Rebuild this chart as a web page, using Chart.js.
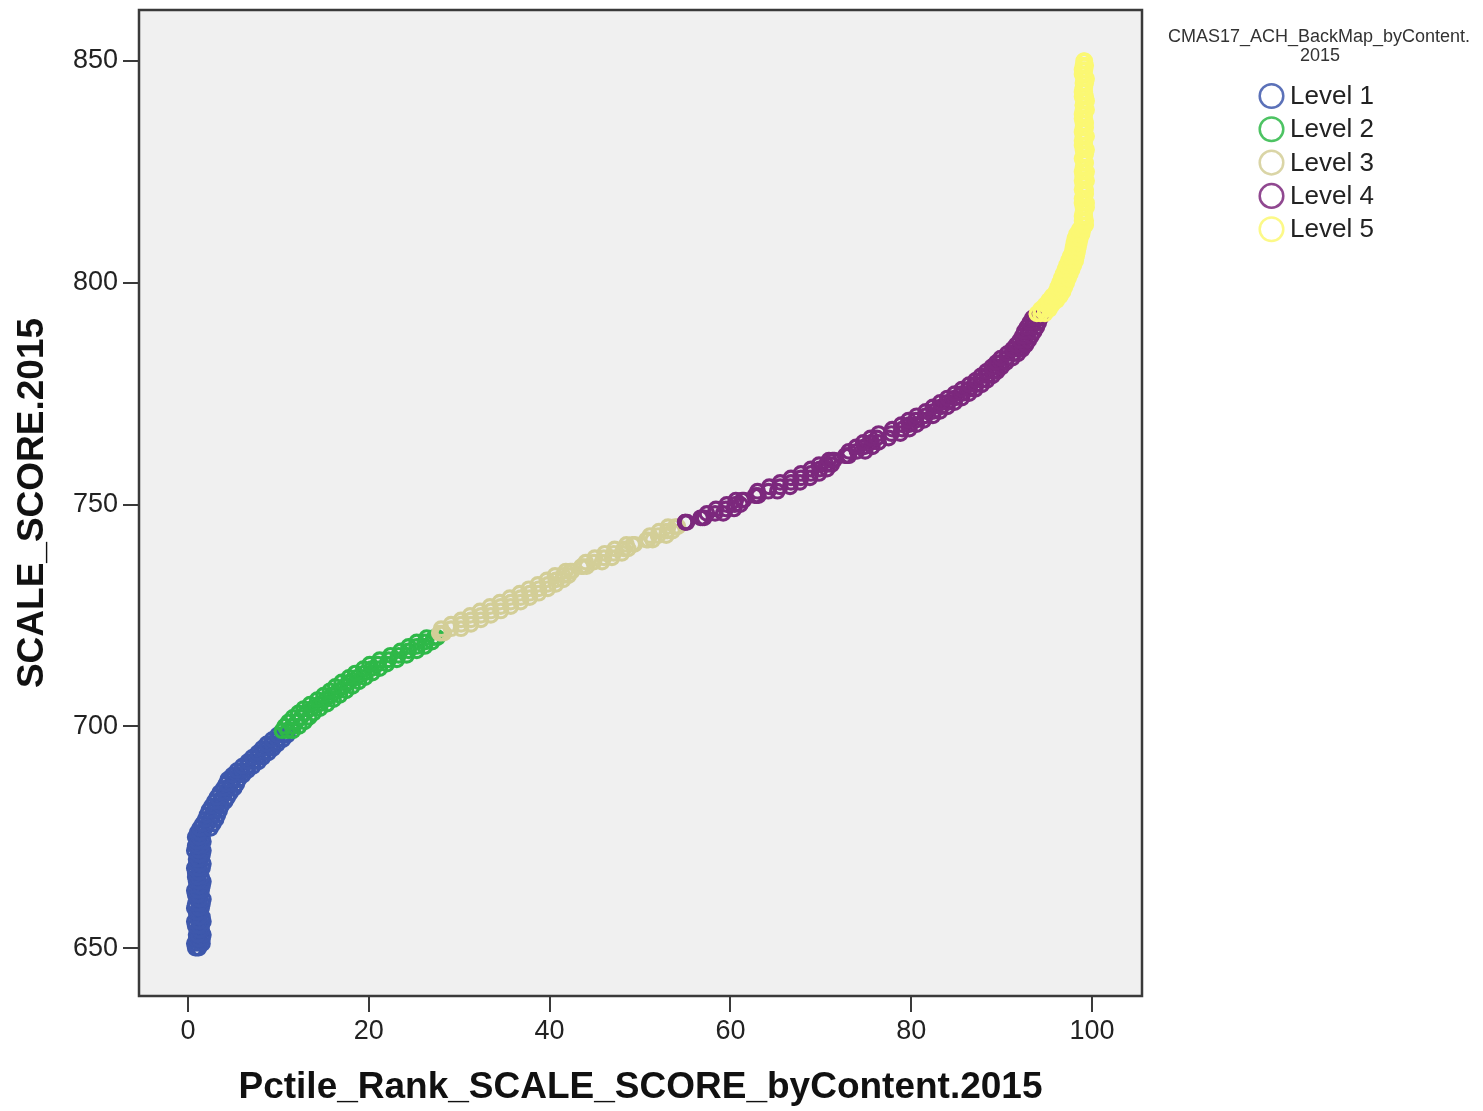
<!DOCTYPE html>
<html><head><meta charset="utf-8">
<script src="https://cdn.jsdelivr.net/npm/chart.js@4/dist/chart.umd.min.js"></script>
<style>html,body{margin:0;padding:0;background:#fff;}canvas{display:block;}</style>
</head><body>
<canvas id="c" width="1483" height="1111"></canvas>
<script>
// ---- data ----
const levelNames = ['Level 1','Level 2','Level 3','Level 4','Level 5'];
const legendTitle = ['CMAS17_ACH_BackMap_byContent.', '2015'];
const xTitle = 'Pctile_Rank_SCALE_SCORE_byContent.2015';
const yTitle = 'SCALE_SCORE.2015';
const xTickValues = [0,20,40,60,80,100];
const yTickValues = [650,700,750,800,850];

// scale scores per level, with three percentile-rank readings per score (content groups)
const level1Scores = [650,651,652,653,654,655,656,657,658,659,660,661,662,663,664,665,666,667,668,669,670,671,672,673,674,675,676,677,678,679,680,681,682,683,684,685,686,687,688,689,690,691,692,693,694,695,696,697,698];
const level1PctA = [1.2,0.7,1.6,0.9,1.5,0.8,1.7,1.0,1.4,0.7,1.6,1.1,0.8,1.5,1.0,1.7,0.8,1.3,1.6,0.9,1.4,1.1,1.7,0.8,1.3,1.6,1.0,1.9,2.2,2.5,2.7,2.9,3.1,3.5,3.8,4.1,4.5,4.8,5.0,5.5,6.0,6.6,7.2,7.7,8.3,8.8,9.3,9.9,10.5];
const level1PctB = [0.8,1.6,0.9,1.7,1.0,1.5,0.7,1.6,0.9,1.5,0.8,1.7,1.4,0.7,1.6,0.9,1.5,0.8,0.7,1.7,0.9,1.6,0.7,1.5,1.7,0.8,1.6,1.3,1.6,1.9,2.1,2.3,2.6,2.9,3.2,3.5,3.9,4.2,4.4,4.9,5.4,6.0,6.6,7.1,7.7,8.2,8.7,9.3,9.9];
const level1PctC = [1.0,1.3,1.2,1.1,1.3,1.2,1.2,1.3,1.1,1.2,1.2,1.3,1.1,1.1,1.3,1.2,1.1,1.2,1.2,1.3,1.1,1.3,1.2,1.1,1.0,1.2,1.3,2.5,2.8,3.1,3.3,3.5,3.7,4.1,4.4,4.7,5.1,5.4,5.6,6.1,6.6,7.2,7.8,8.3,8.9,9.4,9.9,10.5,11.0];

const level2Scores = [699,700,701,702,703,704,705,706,707,708,709,710,711,712,713,714,715,716,717,718,719,720];
const level2PctA = [11.0,11.5,12.0,12.5,13.0,13.7,14.5,15.2,15.9,16.6,17.3,17.9,18.7,19.5,20.3,21.0,22.2,23.3,24.4,25.3,26.2,27.2];
const level2PctB = [10.4,10.7,11.1,11.6,12.2,12.8,13.5,14.3,15.0,15.7,16.3,17.0,17.8,18.5,19.4,20.1,21.2,22.4,23.5,24.4,25.3,26.4];
const level2PctC = [11.6,12.3,12.9,13.4,13.9,14.6,15.4,16.1,16.8,17.5,18.2,18.9,19.6,20.4,21.2,22.0,23.1,24.2,25.3,26.2,27.0,27.6];

const level3Scores = [721,722,723,724,725,726,727,728,729,730,731,732,733,734,735,736,737,738,739,740,741,742,743,744,745];
const level3PctA = [28.0,29.1,30.2,31.3,32.4,33.5,34.6,35.7,36.8,37.8,38.8,39.8,40.7,41.5,42.3,43.7,44.9,46.0,47.1,48.2,49.2,50.9,52.0,53.0,53.9];
const level3PctB = [27.8,28.0,29.1,30.2,31.2,32.3,33.4,34.5,35.6,36.7,37.7,38.7,39.7,40.6,41.8,43.5,44.0,45.0,46.1,47.2,48.5,50.7,51.1,52.1,53.1];
const level3PctC = [28.3,30.2,31.3,32.4,33.5,34.6,35.7,36.8,37.8,38.8,39.8,40.7,41.5,42.1,42.5,44.1,45.8,46.9,48.0,48.7,49.4,51.4,52.9,53.6,54.2];

const level4Scores = [746,747,748,749,750,751,752,753,754,755,756,757,758,759,760,761,762,763,764,765,766,767,768,769,770,771,772,773,774,775,776,777,778,779,780,781,782,783,784,785,786,787,788,789,790,791,792];
const level4PctA = [55.0,56.9,58.3,59.5,60.5,61.3,62.9,64.2,65.5,66.7,67.8,68.9,69.9,70.6,71.3,72.9,74.0,74.8,75.6,76.2,77.8,79.0,79.8,80.5,81.6,82.5,83.3,84.0,84.8,85.6,86.4,87.1,87.8,88.4,89.0,89.4,89.9,90.6,91.3,91.8,92.2,92.5,92.8,93.0,93.3,93.6,93.9];
const level4PctB = [55.0,56.7,57.4,58.4,59.6,60.6,62.7,63.0,64.3,65.5,66.7,67.8,68.9,69.8,70.9,72.7,73.1,73.9,74.7,75.5,76.4,77.9,78.9,79.7,80.6,81.6,82.4,83.2,84.0,84.8,85.6,86.4,87.1,87.7,88.3,88.9,89.4,89.9,90.6,91.2,91.6,92.0,92.3,92.5,92.8,93.1,93.4];
const level4PctC = [55.2,57.1,59.2,60.4,61.1,61.5,63.1,65.2,66.6,67.7,68.8,69.8,70.7,71.2,71.5,73.1,74.9,75.7,76.4,77.5,78.8,79.8,80.6,81.4,82.4,83.2,84.0,84.8,85.6,86.4,87.1,87.8,88.4,89.0,89.5,90.0,90.5,91.2,91.8,92.3,92.7,93.0,93.3,93.6,93.9,94.1,94.3];

const level5Scores = [793,794,795,796,797,798,799,800,801,802,803,804,805,806,807,808,809,810,811,812,813,814,815,816,817,818,819,820,821,822,823,824,825,826,827,828,829,830,831,832,833,834,835,836,837,838,839,840,841,842,843,844,845,846,847,848,849,850];
const level5PctA = [94.3,94.8,95.2,95.6,96.1,96.4,96.6,96.8,97.0,97.2,97.4,97.6,97.8,98.0,98.1,98.2,98.3,98.4,98.6,98.8,99.0,99.3,98.9,99.2,99.0,99.4,98.9,99.1,99.3,99.0,98.9,99.2,99.4,99.0,99.1,98.9,99.3,99.0,99.2,98.9,99.4,99.1,99.0,99.3,98.9,99.2,99.0,99.1,99.4,98.9,99.2,99.0,99.3,99.1,98.9,99.2,99.0,99.1];
const level5PctB = [93.9,94.3,94.8,95.2,95.6,96.0,96.2,96.4,96.6,96.8,97.0,97.2,97.4,97.6,97.8,97.9,98.0,98.1,98.3,98.6,99.3,98.9,99.2,99.0,99.4,98.9,99.1,99.3,98.9,99.2,99.4,99.0,98.9,99.2,99.3,99.0,99.1,99.4,98.9,99.2,99.0,98.9,99.3,99.1,99.2,98.9,99.4,99.0,99.1,99.3,98.9,99.2,99.0,99.4,99.1,98.9,99.3,99.2];
const level5PctC = [94.8,95.3,95.6,96.1,96.5,96.8,97.0,97.2,97.4,97.6,97.8,98.0,98.2,98.3,98.4,98.5,98.6,98.7,98.9,99.0,99.1,99.2,99.0,99.1,99.2,99.1,99.0,99.2,99.1,99.1,99.2,99.0,99.1,99.2,99.1,99.0,99.2,99.1,99.1,99.0,99.2,99.1,99.2,99.0,99.1,99.1,99.2,99.0,99.1,99.2,99.1,99.0,99.2,99.1,99.0,99.2,99.1,99.1];

const levelColors = ['#3E58AC','#2EB848','#D3CE97','#7C287D','#FBF873'];

// ---- build ----
const allScores = [level1Scores, level2Scores, level3Scores, level4Scores, level5Scores];
const allPct = [
  [level1PctA, level1PctB, level1PctC],
  [level2PctA, level2PctB, level2PctC],
  [level3PctA, level3PctB, level3PctC],
  [level4PctA, level4PctB, level4PctC],
  [level5PctA, level5PctB, level5PctC]
];
const FONT = '"Liberation Sans", Arial, sans-serif';

const datasets = levelNames.map((name, i) => {
  const pts = [];
  allScores[i].forEach((s, j) => {
    allPct[i].forEach(arr => pts.push({x: arr[j], y: s}));
  });
  return {
    label: name,
    data: pts,
    borderColor: levelColors[i],
    backgroundColor: 'rgba(0,0,0,0)',
    borderWidth: 3.2,
    pointRadius: 6.8,
    pointStyle: 'circle',
    order: 5 - i
  };
});

const PLOT = {left: 139, right: 1142, top: 9, bottom: 996};

const framePlugin = {
  id: 'frame',
  beforeDatasetsDraw(chart) {
    const {ctx, chartArea: a} = chart;
    ctx.save();
    ctx.fillStyle = '#f0f0f0';
    ctx.fillRect(a.left, a.top, a.right - a.left, a.bottom - a.top);
    ctx.restore();
  },
  afterDraw(chart) {
    const {ctx, chartArea: a} = chart;
    ctx.save();
    ctx.strokeStyle = '#3a3a3a';
    ctx.lineWidth = 2.5;
    ctx.strokeRect(a.left, a.top, a.right - a.left, a.bottom - a.top);
    // legend
    ctx.fillStyle = '#333';
    ctx.textAlign = 'center';
    ctx.textBaseline = 'middle';
    ctx.font = '18px ' + FONT;
    ctx.fillText(legendTitle[0], 1319, 37);
    ctx.fillText(legendTitle[1], 1320, 56);
    levelNames.forEach((name, i) => {
      const cy = 96 + i * 33.3;
      ctx.beginPath();
      ctx.arc(1271.5, cy, 11.8, 0, Math.PI * 2);
      ctx.strokeStyle = levelColors[i];
      ctx.globalAlpha = 0.85;
      ctx.lineWidth = 2.5;
      ctx.stroke();
      ctx.globalAlpha = 1;
      ctx.fillStyle = '#222';
      ctx.textAlign = 'left';
      ctx.font = '26px ' + FONT;
      ctx.fillText(name, 1290, cy + 1);
    });
    ctx.restore();
  }
};

new Chart(document.getElementById('c'), {
  type: 'scatter',
  data: {datasets},
  options: {
    responsive: false,
    animation: false,
    events: [],
    layout: {padding: {left: 0, top: PLOT.top, right: 1483 - PLOT.right, bottom: 0}},
    plugins: {legend: {display: false}, tooltip: {enabled: false}},
    scales: {
      x: {
        type: 'linear', min: -5.42, max: 105.53,
        afterBuildTicks: s => { s.ticks = xTickValues.map(v => ({value: v})); },
        afterFit: s => { s.height = 1111 - PLOT.bottom; s.paddingLeft = 0; s.paddingRight = 0; },
        ticks: {font: {size: 27, family: FONT}, color: '#222', padding: 3},
        grid: {drawOnChartArea: false, drawTicks: true, tickLength: 16, color: '#3a3a3a', lineWidth: 2},
        border: {display: false},
        title: {display: true, text: xTitle, font: {size: 37, weight: 'bold', family: FONT}, color: '#111', padding: {top: 1, bottom: 1}}
      },
      y: {
        type: 'linear', min: 639.19, max: 861.49,
        afterBuildTicks: s => { s.ticks = yTickValues.map(v => ({value: v})); },
        afterFit: s => { s.width = PLOT.left; s.paddingTop = 0; s.paddingBottom = 0; },
        ticks: {font: {size: 27, family: FONT}, color: '#222', padding: 5},
        grid: {drawOnChartArea: false, drawTicks: true, tickLength: 16, color: '#3a3a3a', lineWidth: 2},
        border: {display: false},
        title: {display: true, text: yTitle, font: {size: 37, weight: 'bold', family: FONT}, color: '#111', padding: {top: 11, bottom: 11}}
      }
    }
  },
  plugins: [framePlugin]
});
</script>
</body></html>
